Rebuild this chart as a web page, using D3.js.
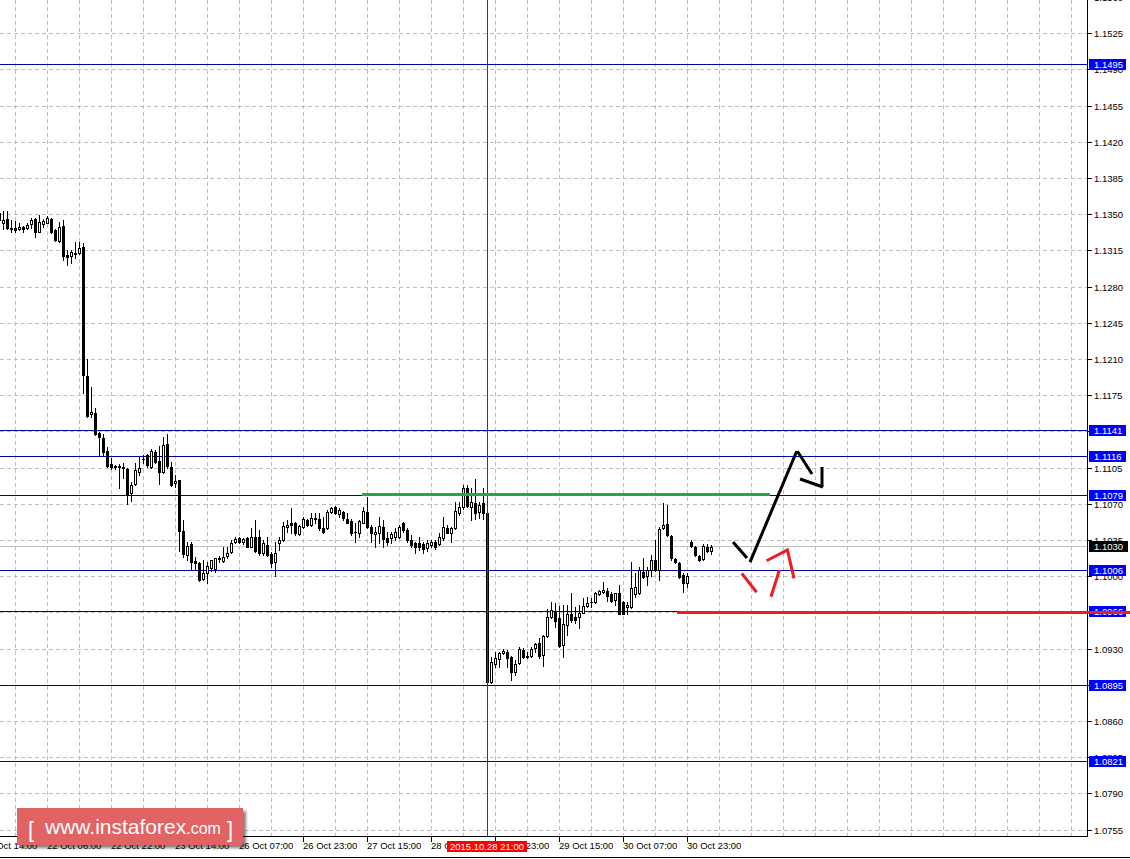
<!DOCTYPE html>
<html><head><meta charset="utf-8">
<script src="https://cdn.jsdelivr.net/npm/d3@7"></script>
<style>html,body{margin:0;padding:0;background:#fff;overflow:hidden}svg{display:block}</style>
</head><body>
<svg id="c" width="1130" height="859"></svg>
<script>
// ---------- DATA ----------
const open = [1.13512,1.13416,1.13454,1.13368,1.13368,1.13358,1.13377,1.13368,1.13406,1.13454,1.13329,1.13406,1.13416,1.13454,1.13348,1.13241,1.13387,1.13107,1.13097,1.13126,1.13126,1.13183,1.11936,1.11568,1.11578,1.11385,1.11337,1.11211,1.11085,1.11066,1.11066,1.11056,1.11037,1.10805,1.10891,1.11008,1.11134,1.11173,1.11056,1.11202,1.11114,1.11008,1.11279,1.11056,1.10901,1.10930,1.10437,1.10205,1.10311,1.10147,1.10128,1.09973,1.10031,1.10080,1.10070,1.10167,1.10147,1.10196,1.10234,1.10331,1.10370,1.10331,1.10370,1.10283,1.10379,1.10379,1.10225,1.10302,1.10215,1.10138,1.10321,1.10350,1.10476,1.10515,1.10515,1.10408,1.10476,1.10544,1.10496,1.10563,1.10554,1.10466,1.10466,1.10621,1.10669,1.10602,1.10621,1.10554,1.10534,1.10428,1.10418,1.10515,1.10621,1.10476,1.10408,1.10418,1.10476,1.10370,1.10370,1.10379,1.10379,1.10515,1.10447,1.10350,1.10321,1.10321,1.10311,1.10273,1.10302,1.10331,1.10311,1.10370,1.10466,1.10418,1.10466,1.10611,1.10669,1.10853,1.10669,1.10708,1.10621,1.10708,1.10611,1.08977,1.09151,1.09199,1.09258,1.09267,1.09219,1.09074,1.09161,1.09287,1.09230,1.09228,1.09306,1.09354,1.09238,1.09422,1.09606,1.09654,1.09596,1.09335,1.09528,1.09634,1.09606,1.09606,1.09644,1.09712,1.09751,1.09751,1.09828,1.09848,1.09857,1.09828,1.09770,1.09838,1.09751,1.09703,1.09703,1.09828,1.09838,1.10041,1.10002,1.10060,1.10157,1.10060,1.10466,1.10505,1.10389,1.10167,1.10128,1.10012,1.09934,1.10331,1.10283,1.10196,1.10167,1.10283,1.10244];
const high = [1.13531,1.13531,1.13531,1.13445,1.13435,1.13416,1.13387,1.13416,1.13464,1.13464,1.13493,1.13454,1.13483,1.13464,1.13358,1.13426,1.13445,1.13155,1.13155,1.13232,1.13232,1.13222,1.12101,1.11829,1.11627,1.11395,1.11375,1.11249,1.11144,1.11076,1.11085,1.11095,1.11046,1.10911,1.11095,1.11153,1.11173,1.11182,1.11230,1.11221,1.11259,1.11346,1.11375,1.11105,1.10979,1.10935,1.10544,1.10331,1.10331,1.10186,1.10133,1.10157,1.10138,1.10157,1.10180,1.10196,1.10283,1.10283,1.10350,1.10379,1.10379,1.10370,1.10379,1.10466,1.10544,1.10447,1.10350,1.10379,1.10234,1.10331,1.10379,1.10525,1.10544,1.10659,1.10525,1.10496,1.10573,1.10554,1.10611,1.10611,1.10611,1.10573,1.10640,1.10669,1.10675,1.10659,1.10630,1.10611,1.10554,1.10515,1.10544,1.10669,1.10766,1.10496,1.10476,1.10573,1.10544,1.10428,1.10428,1.10466,1.10496,1.10525,1.10466,1.10399,1.10331,1.10379,1.10331,1.10350,1.10350,1.10350,1.10418,1.10573,1.10496,1.10476,1.10718,1.10718,1.10882,1.10882,1.10853,1.10940,1.10718,1.10853,1.10640,1.09219,1.09267,1.09267,1.09296,1.09287,1.09228,1.09190,1.09316,1.09306,1.09267,1.09316,1.09354,1.09403,1.09432,1.09683,1.09751,1.09741,1.09712,1.09722,1.09722,1.09838,1.09703,1.09722,1.09790,1.09799,1.09790,1.09848,1.09862,1.09944,1.09886,1.09848,1.09842,1.09915,1.09760,1.09751,1.10138,1.10031,1.10089,1.10176,1.10089,1.10205,1.10350,1.10476,1.10708,1.10689,1.10399,1.10176,1.10138,1.10031,1.10031,1.10350,1.10292,1.10205,1.10311,1.10311,1.10302];
const low = [1.13377,1.13358,1.13358,1.13329,1.13329,1.13348,1.13329,1.13358,1.13368,1.13280,1.13329,1.13377,1.13416,1.13320,1.13241,1.13235,1.13058,1.13010,1.13029,1.13077,1.13120,1.11772,1.11539,1.11539,1.11366,1.11173,1.11173,1.11056,1.11037,1.11037,1.10853,1.10950,1.10698,1.10727,1.10882,1.10979,1.11095,1.11056,1.11050,1.11095,1.10891,1.11000,1.11046,1.10872,1.10862,1.10244,1.10186,1.10157,1.10060,1.10060,1.09953,1.09963,1.09934,1.10050,1.10041,1.10138,1.10138,1.10176,1.10225,1.10321,1.10321,1.10311,1.10280,1.10280,1.10234,1.10205,1.10205,1.10196,1.10089,1.10002,1.10254,1.10340,1.10428,1.10418,1.10399,1.10399,1.10466,1.10486,1.10486,1.10515,1.10447,1.10418,1.10457,1.10611,1.10602,1.10573,1.10544,1.10510,1.10399,1.10331,1.10379,1.10510,1.10466,1.10331,1.10283,1.10321,1.10283,1.10302,1.10321,1.10350,1.10370,1.10428,1.10331,1.10283,1.10225,1.10254,1.10225,1.10244,1.10283,1.10263,1.10302,1.10350,1.10415,1.10331,1.10457,1.10592,1.10650,1.10669,1.10544,1.10554,1.10563,1.10554,1.08967,1.08967,1.09122,1.09122,1.09248,1.09122,1.08996,1.09045,1.09151,1.09209,1.09209,1.09219,1.09267,1.09209,1.09132,1.09412,1.09596,1.09509,1.09316,1.09219,1.09432,1.09557,1.09548,1.09499,1.09640,1.09703,1.09703,1.09741,1.09819,1.09838,1.09760,1.09751,1.09722,1.09630,1.09630,1.09630,1.09693,1.09799,1.09828,1.09983,1.09915,1.10002,1.10050,1.09963,1.10457,1.10389,1.10157,1.10128,1.09983,1.09848,1.09896,1.10283,1.10196,1.10147,1.10157,1.10234,1.10215];
const close = [1.13445,1.13445,1.13368,1.13358,1.13348,1.13377,1.13358,1.13397,1.13445,1.13329,1.13426,1.13435,1.13464,1.13329,1.13251,1.13377,1.13097,1.13087,1.13136,1.13116,1.13174,1.11946,1.11549,1.11588,1.11375,1.11346,1.11202,1.11066,1.11056,1.11056,1.11056,1.11046,1.10786,1.10882,1.11027,1.11046,1.11130,1.11076,1.11211,1.11105,1.11008,1.11269,1.11066,1.10882,1.10920,1.10437,1.10215,1.10292,1.10138,1.10128,1.09963,1.10031,1.10099,1.10160,1.10176,1.10176,1.10186,1.10225,1.10321,1.10360,1.10331,1.10360,1.10283,1.10379,1.10244,1.10225,1.10321,1.10205,1.10128,1.10225,1.10350,1.10486,1.10496,1.10496,1.10418,1.10486,1.10554,1.10496,1.10563,1.10558,1.10466,1.10428,1.10621,1.10659,1.10611,1.10640,1.10563,1.10515,1.10418,1.10425,1.10534,1.10630,1.10476,1.10418,1.10428,1.10486,1.10360,1.10331,1.10408,1.10428,1.10476,1.10447,1.10350,1.10302,1.10283,1.10283,1.10263,1.10321,1.10331,1.10283,1.10379,1.10476,1.10418,1.10466,1.10630,1.10669,1.10853,1.10679,1.10718,1.10611,1.10689,1.10611,1.08977,1.09170,1.09209,1.09258,1.09277,1.09209,1.09074,1.09151,1.09296,1.09219,1.09219,1.09296,1.09344,1.09228,1.09422,1.09606,1.09673,1.09567,1.09325,1.09538,1.09634,1.09577,1.09577,1.09644,1.09712,1.09741,1.09748,1.09838,1.09857,1.09867,1.09809,1.09760,1.09838,1.09634,1.09634,1.09722,1.09886,1.09896,1.10060,1.09992,1.10060,1.10157,1.10060,1.10457,1.10496,1.10399,1.10176,1.10138,1.09992,1.09934,1.10002,1.10292,1.10205,1.10157,1.10292,1.10244,1.10283];

const yTickValues = [1.0755,1.0790,1.0825,1.0860,1.0895,1.0930,1.0965,1.1000,1.1035,1.1070,1.1105,1.1140,1.1175,1.1210,1.1245,1.1280,1.1315,1.1350,1.1385,1.1420,1.1455,1.1490,1.1525,1.1560];
const xTickLabels = ["21 Oct 14:00","22 Oct 06:00","22 Oct 22:00","23 Oct 14:00","26 Oct 07:00","26 Oct 23:00","27 Oct 15:00","28 Oct 07:00","28 Oct 23:00","29 Oct 15:00","30 Oct 07:00","30 Oct 23:00"];
const xTickBars = [-4,12,28,44,60,76,92,108,124,140,156,172];

const levels = [1.1495,1.1141,1.1116,1.1079,1.1006,1.0966,1.0895,1.0821];
const bidPrice = 1.1030;
const markerBar = 122;
const markerLabel = "2015.10.28 21:00";

const greenLevel = {from: 90.75, to: 192.75, price: 1.1079};
const redLevel = {from: 169.5, to: 283, price: 1.0966};

const blackStrokes = [
  [[183.5,1.10331],[187,1.10176]],
  [[187.75,1.10137],[199.3,1.11196],[199.8,1.11196],[203.25,1.10988]],
  [[200.25,1.10940],[206,1.10863]],
  [[205.75,1.11056],[205.75,1.10863]]
];
const redStrokes = [
  [[185.7,1.10028],[189.4,1.09845]],
  [[193,1.09802],[195.1,1.10060]],
  [[191.9,1.10150],[197.1,1.10254],[198.75,1.09980]]
];

// ---------- LAYOUT ----------
const plotR = 1087, plotB = 836;
const FONT = "'Liberation Sans', Arial, sans-serif";
const svg = d3.select("#c");
const x = d3.scaleLinear().domain([0, 1]).range([-1, 3]);
const y = d3.scaleLinear().domain([1.15572, 1.07488]).range([0, plotB]);
const py = v => Math.round(y(v));

svg.append("rect").attr("width",1130).attr("height",859).attr("fill","#fff");

const defs = svg.append("defs");
defs.append("clipPath").attr("id","plotclip").append("rect").attr("x",0).attr("y",0).attr("width",plotR).attr("height",plotB);
const f = defs.append("filter").attr("id","shadow").attr("x","-10%").attr("y","-20%").attr("width","120%").attr("height","150%");
f.append("feGaussianBlur").attr("in","SourceAlpha").attr("stdDeviation",1.6).attr("result","b");
f.append("feOffset").attr("in","b").attr("dx",3).attr("dy",3).attr("result","o");
f.append("feComponentTransfer").attr("in","o").attr("result","o2").append("feFuncA").attr("type","linear").attr("slope",0.5);
const fm = f.append("feMerge"); fm.append("feMergeNode").attr("in","o2"); fm.append("feMergeNode").attr("in","SourceGraphic");

const plot = svg.append("g").attr("clip-path","url(#plotclip)");

// grid
const grid = plot.append("g").attr("stroke","#c0c0c0").attr("stroke-width",1).attr("stroke-dasharray","4,3").attr("shape-rendering","crispEdges");
grid.selectAll("line.h").data(yTickValues).join("line").attr("class","h")
  .attr("x1",0).attr("x2",plotR).attr("y1",d=>py(d)+0.5).attr("y2",d=>py(d)+0.5);
grid.selectAll("line.v").data(d3.range(4, 272, 8)).join("line").attr("class","v")
  .attr("y1",0).attr("y2",plotB).attr("x1",d=>Math.round(x(d))+0.5).attr("x2",d=>Math.round(x(d))+0.5);

// bid line
plot.append("line").attr("x1",0).attr("x2",plotR).attr("y1",py(bidPrice)+1.5).attr("y2",py(bidPrice)+1.5)
  .attr("stroke","#c0c0c0").attr("shape-rendering","crispEdges");

// level lines
plot.append("g").selectAll("line").data(levels).join("line")
  .attr("x1",0).attr("x2",plotR).attr("y1",d=>py(d)+0.5).attr("y2",d=>py(d)+0.5)
  .attr("stroke","#0000a8").attr("stroke-width",1).attr("shape-rendering","crispEdges");

// candles
const bars = open.map((o,i)=>({i, o, h: high[i], l: low[i], c: close[i]}));
const cg = plot.append("g").attr("shape-rendering","crispEdges");
cg.selectAll("rect.w").data(bars).join("rect").attr("class","w")
  .attr("x",d=>Math.round(x(d.i))).attr("width",1)
  .attr("y",d=>py(d.h)).attr("height",d=>Math.max(1,py(d.l)-py(d.h)+1)).attr("fill","#000");
cg.selectAll("rect.b").data(bars).join("rect").attr("class","b")
  .attr("x",d=>Math.round(x(d.i))-1).attr("width",3)
  .attr("y",d=>py(Math.max(d.o,d.c))).attr("height",d=>Math.max(1,py(Math.min(d.o,d.c))-py(Math.max(d.o,d.c))+1)).attr("fill","#000");
cg.selectAll("rect.in").data(bars.filter(d=>d.c>d.o && py(d.o)-py(d.c)>=2)).join("rect").attr("class","in")
  .attr("x",d=>Math.round(x(d.i))).attr("width",1)
  .attr("y",d=>py(d.c)+1).attr("height",d=>py(d.o)-py(d.c)-1).attr("fill","#fff");

// marker vertical line
plot.append("line").attr("x1",Math.round(x(markerBar))+0.5).attr("x2",Math.round(x(markerBar))+0.5)
  .attr("y1",0).attr("y2",plotB).attr("stroke","#d00000").attr("shape-rendering","crispEdges");

// green level segment
plot.append("line").attr("x1",x(greenLevel.from)).attr("x2",x(greenLevel.to))
  .attr("y1",y(greenLevel.price)).attr("y2",y(greenLevel.price))
  .attr("stroke","#22a84a").attr("stroke-width",3);

// hand-drawn arrows
const line = d3.line().x(d=>x(d[0])).y(d=>y(d[1]));
plot.append("g").selectAll("path").data(blackStrokes).join("path")
  .attr("d",line).attr("fill","none").attr("stroke","#000").attr("stroke-width",3).attr("stroke-linejoin","miter");
plot.append("g").selectAll("path").data(redStrokes).join("path")
  .attr("d",line).attr("fill","none").attr("stroke","#ed1c24").attr("stroke-width",3).attr("stroke-linejoin","miter");

// axes frame
const ax = svg.append("g").attr("shape-rendering","crispEdges").attr("stroke","#000");
ax.append("line").attr("x1",plotR+0.5).attr("x2",plotR+0.5).attr("y1",0).attr("y2",plotB+1);
ax.append("line").attr("x1",0).attr("x2",plotR+1).attr("y1",plotB+0.5).attr("y2",plotB+0.5);
ax.append("line").attr("x1",0).attr("x2",1130).attr("y1",857.5).attr("y2",857.5);

// y ticks + labels
ax.selectAll("line.yt").data(yTickValues).join("line").attr("class","yt")
  .attr("x1",plotR+1).attr("x2",plotR+5).attr("y1",d=>py(d)+0.5).attr("y2",d=>py(d)+0.5);
svg.append("g").selectAll("text").data(yTickValues).join("text")
  .attr("x",1094).attr("y",d=>py(d)+4).text(d=>d.toFixed(4))
  .attr("font-family",FONT).attr("font-size","9.5px").attr("fill","#000");

// x ticks + labels
ax.selectAll("line.xt").data(xTickBars).join("line").attr("class","xt")
  .attr("x1",d=>Math.round(x(d))+0.5).attr("x2",d=>Math.round(x(d))+0.5).attr("y1",plotB+1).attr("y2",plotB+6);
svg.append("g").selectAll("text").data(xTickLabels).join("text")
  .attr("x",(d,i)=>Math.round(x(xTickBars[i]))).attr("y",849).text(d=>d)
  .attr("font-family",FONT).attr("font-size","9.5px").attr("fill","#000");

// level label boxes
const lb = svg.append("g");
lb.selectAll("rect").data(levels).join("rect")
  .attr("x",1089).attr("y",d=>py(d)-5).attr("width",37).attr("height",11).attr("fill","#0000ff").attr("shape-rendering","crispEdges");
lb.selectAll("text").data(levels).join("text")
  .attr("x",1094).attr("y",d=>py(d)+4).text(d=>d.toFixed(4))
  .attr("font-family",FONT).attr("font-size","9.5px").attr("fill","#fff");

// bid box
svg.append("rect").attr("x",1089).attr("y",py(bidPrice)-4).attr("width",39).attr("height",11).attr("fill","#000").attr("shape-rendering","crispEdges");
svg.append("text").attr("x",1094).attr("y",py(bidPrice)+5).text(bidPrice.toFixed(4))
  .attr("font-family",FONT).attr("font-size","9.5px").attr("fill","#fff");

// red level line (extends over the axis)
svg.append("line").attr("x1",x(redLevel.from)).attr("x2",x(redLevel.to))
  .attr("y1",y(redLevel.price)+1).attr("y2",y(redLevel.price)+1)
  .attr("stroke","#ed1c24").attr("stroke-width",3);

// marker date box
const mx = Math.round(x(markerBar));
svg.append("rect").attr("x",mx-40).attr("y",841).attr("width",80).attr("height",11).attr("fill","#ff0000").attr("shape-rendering","crispEdges");
svg.append("text").attr("x",mx).attr("y",850).attr("text-anchor","middle").text(markerLabel)
  .attr("font-family",FONT).attr("font-size","9.5px").attr("fill","#fff");

// logo
const LOGOFONT = "'Liberation Sans', Arial, sans-serif";
const logo = svg.append("g");
logo.append("rect").attr("x",17).attr("y",808).attr("width",226).attr("height",37).attr("fill","#e26464").attr("filter","url(#shadow)");
logo.append("text").attr("x",28).attr("y",837).text("[").attr("font-family",LOGOFONT).attr("font-size","22px").attr("fill","#fff");
const lt = logo.append("text").attr("x",45).attr("y",833.5).attr("font-family",LOGOFONT).attr("fill","#fff");
lt.append("tspan").attr("font-size","21px").text("www.instaforex");
lt.append("tspan").attr("font-size","16px").text(".com");
logo.append("text").attr("x",227).attr("y",837).text("]").attr("font-family",LOGOFONT).attr("font-size","22px").attr("fill","#fff");
</script>
</body></html>
